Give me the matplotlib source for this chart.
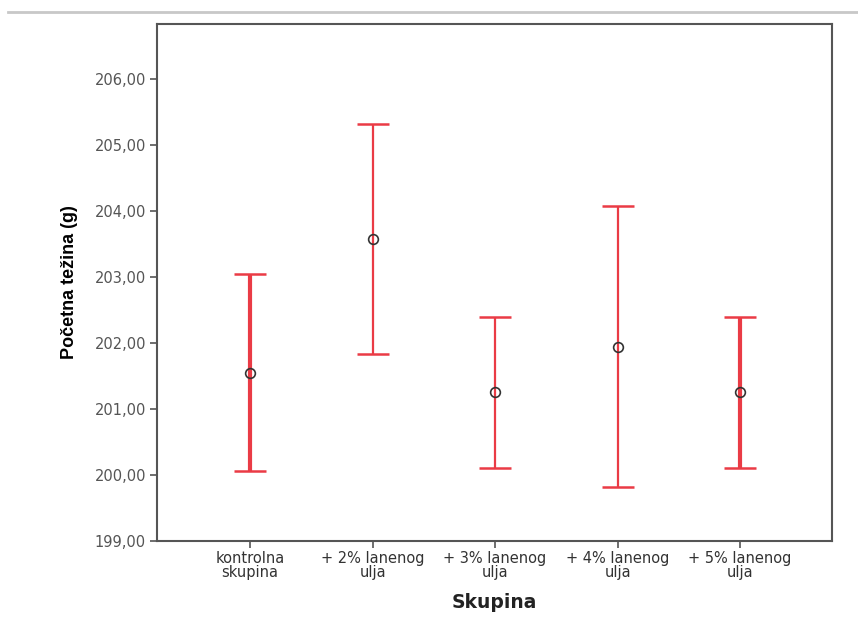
import matplotlib
matplotlib.use("Agg")
import matplotlib.pyplot as plt
from matplotlib.lines import Line2D

categories = ["kontrolna\nskupina", "+ 2% lanenog\nulja", "+ 3% lanenog\nulja",
              "+ 4% lanenog\nulja", "+ 5% lanenog\nulja"]
means = [201.55, 203.58, 201.26, 201.94, 201.26]
upper = [203.05, 205.32, 202.40, 204.07, 202.40]
lower = [200.06, 201.83, 200.11, 199.82, 200.11]
widths = [3.0, 1.6, 1.6, 1.6, 3.0]
yticks = [199, 200, 201, 202, 203, 204, 205, 206]

plt.rcParams['font.family'] = ['DejaVu Sans']

fig = plt.figure(figsize=(8.58, 6.31), dpi=100)
ax = fig.add_axes([157/858, 1-541/631, (832-157)/858, (541-24)/631])

red = "#ea3b45"
for i, (m, u, l, w) in enumerate(zip(means, upper, lower, widths)):
    ax.errorbar([i], [m], yerr=[[m - l], [u - m]], fmt='none', ecolor=red,
                elinewidth=w, capsize=11.5, capthick=1.8, zorder=2)
    ax.plot([i], [m], marker='o', markersize=7, markerfacecolor='none',
            markeredgecolor='#333333', markeredgewidth=1.2, linestyle='none', zorder=3)

ax.set_xlim(-0.76, 4.75)
ax.set_ylim(199, 206.83)
ax.set_xticks(range(len(categories)))
ax.set_xticklabels(categories, fontsize=10.5, color='#333333', linespacing=0.9)
ax.set_yticks(yticks)
ax.set_yticklabels([f"{v},00" for v in yticks], fontsize=10.5, color='#555555')
ax.tick_params(axis='both', direction='out', length=5, width=1.2, color='#555555')
ax.tick_params(axis='x', pad=2)
ax.tick_params(axis='y', pad=3)
for s in ax.spines.values():
    s.set_color('#555555')
    s.set_linewidth(1.5)

ax.set_ylabel("Početna težina (g)", fontsize=13, fontweight='bold', labelpad=12,
              family='Liberation Sans')
ax.set_xlabel("Skupina", fontsize=13.5, fontweight='bold', labelpad=10, color='#222222')

fig.add_artist(Line2D([8/858, 1.0], [1-12/631, 1-12/631], transform=fig.transFigure,
                      color='#c8c8c8', linewidth=2))

fig.savefig("out.png", dpi=100)
